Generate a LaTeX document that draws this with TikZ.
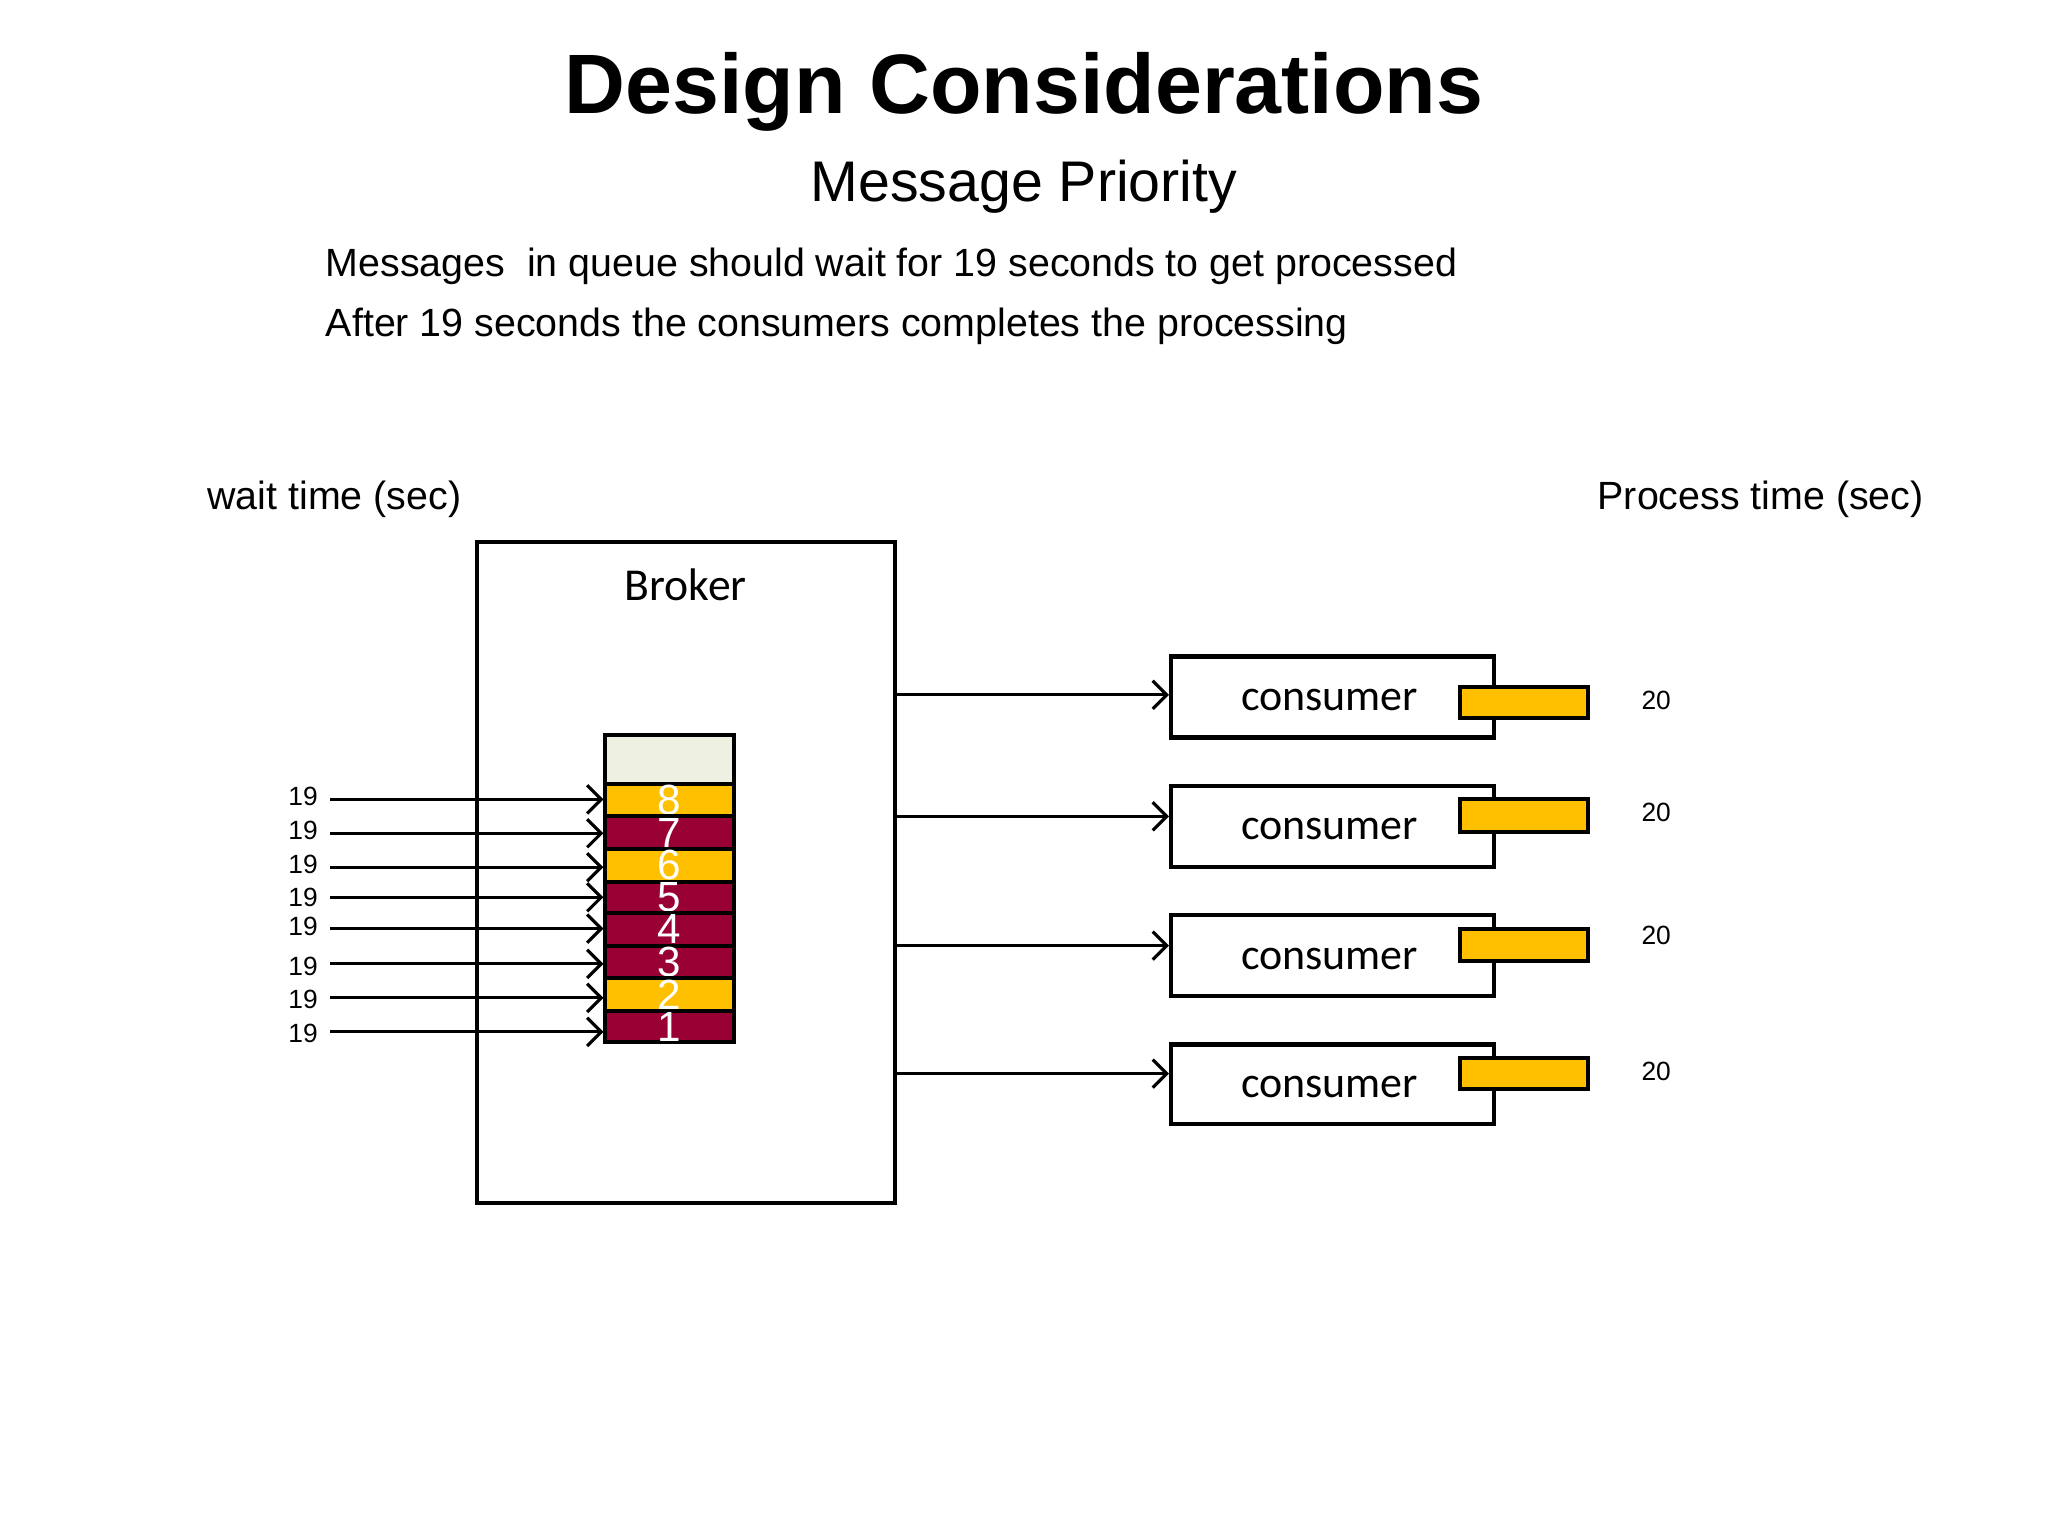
\documentclass[tikz,border=0pt]{standalone}
\usepackage{fontspec}
\usetikzlibrary{arrows.meta}
\setmainfont{Liberation Sans}
\newfontfamily\carl{Carlito}
\definecolor{gold}{HTML}{FFC000}
\definecolor{maroon}{HTML}{990033}
\definecolor{cream}{HTML}{EEF0E2}
\begin{document}
\begin{tikzpicture}[x=0.013061cm,y=-0.013061cm,
  box/.style={draw,line width=1.2pt},
  cell/.style={draw,line width=1.1pt},
  arr/.style={-{Straight Barb[length=4pt,width=8pt]},line width=0.9pt},
  sm/.style={font=\fontsize{7.5}{9}\selectfont},
  body/.style={font=\fontsize{11.2}{14}\selectfont}]
\useasboundingbox (0,0) rectangle (1568,1176);
\node[font=\bfseries\fontsize{24}{30}\selectfont] (title) at (784,70) {Design Considerations};
\node[font=\fontsize{16.3}{20}\selectfont] (sub) at (784,143) {Message Priority};
\node[body,anchor=west] (l1) at (240,204) {Messages\ \ in queue should wait for 19 seconds to get processed};
\node[body,anchor=west] (l2) at (240,250) {After 19 seconds the consumers completes the processing};
\node[body] (wt) at (256,382) {wait time (sec)};
\node[body] (pt) at (1348,382) {Process time (sec)};
\draw[box] (365,415) rectangle (685,921);
\node[font=\carl\fontsize{13}{15}\selectfont] (broker) at (525,448) {Broker};
\draw[cell,fill=cream] (463,563) rectangle (562,600);
\foreach \n/\a/\b/\c/\ay/\ly in {8/600/625/gold/612/610, 7/625/650/maroon/638/636, 6/650/675/gold/664/662, 5/675/699/maroon/687/687, 4/699/724/maroon/711/709, 3/724/749/maroon/738/740, 2/749/774/gold/764/765, 1/774/798/maroon/790/791}{
  \draw[cell,fill=\c] (463,\a) rectangle (562,\b);
  \node[text=white,font=\fontsize{12}{12}\selectfont,inner sep=0] (q\n) at (512,{(\a+\b)/2}) {\n};
  \node[sm] (w\n) at (232,\ly) {19};
  \coordinate (s\n) at (253,\ay);
  \coordinate (e\n) at (462,\ay);
  \draw[arr] (s\n) -- (e\n);
}
\foreach \i/\t/\b/\ay/\yb/\yc/\ly in {1/501/563/532/526/550/536, 2/600/662/625/612/637/622, 3/699/761/724/711/736/716, 4/798/859/822/810/834/820}{
  \node[box,minimum width=247*0.013061cm,minimum height={(\b-\t)*0.013061cm},anchor=north west,inner sep=0] (c\i) at (895,\t) {};
  \node[font=\carl\fontsize{12.5}{14}\selectfont] (ct\i) at (1018,{(\t+\b)/2+4}) {consumer};
  \draw[cell,fill=gold] (1118,\yb) rectangle (1216,\yc);
  \node[sm] (p\i) at (1268,\ly) {20};
  \coordinate (f\i) at (686,\ay);
  \draw[arr] (f\i) -- (c\i.west |- f\i);
}
\end{tikzpicture}
\end{document}
